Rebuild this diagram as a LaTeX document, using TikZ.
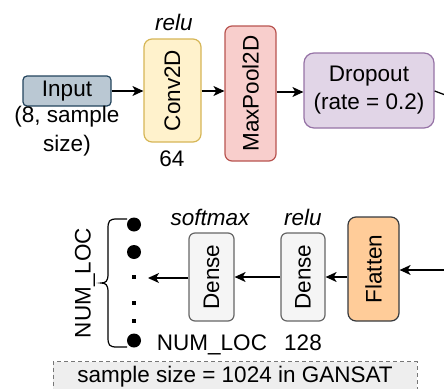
\documentclass[tikz,border=0pt]{standalone}
\usepackage{fontspec}
\setmainfont{Liberation Sans}
\usepackage{graphicx}
\usetikzlibrary{arrows.meta}
\definecolor{inpfill}{HTML}{BAC8D3}
\definecolor{inpdraw}{HTML}{23445D}
\definecolor{convfill}{HTML}{FFF2CC}
\definecolor{convdraw}{HTML}{D6B656}
\definecolor{poolfill}{HTML}{F8CECC}
\definecolor{pooldraw}{HTML}{B85450}
\definecolor{dropfill}{HTML}{E1D5E7}
\definecolor{dropdraw}{HTML}{9673A6}
\definecolor{flatfill}{HTML}{FFCC99}
\definecolor{flatdraw}{HTML}{36393D}
\definecolor{densefill}{HTML}{F5F5F5}
\definecolor{densedraw}{HTML}{666666}
\definecolor{notefill}{HTML}{EEEEEE}
\definecolor{notedraw}{HTML}{777777}
\tikzset{
  box/.style={draw, line width=1.2pt, inner sep=0pt, align=center},
  arr/.style={-{Stealth[length=11pt,width=10pt,inset=3pt]}, line width=1.3pt},
  lbl/.style={inner sep=0pt},
  bigdot/.style={circle, fill=black, inner sep=0pt, minimum size=14pt},
  smalldot/.style={rectangle, fill=black, inner sep=0pt, minimum size=3.5pt},
}
\begin{document}
\begin{tikzpicture}[x=1pt,y=-1pt, font=\fontsize{22.5}{28}\selectfont]
\clip (0,0) rectangle (444,388);
% top row
\node[box, fill=inpfill, draw=inpdraw, rounded corners=4pt, minimum width=88pt, minimum height=30pt] (inp) at (67,91) {Input};
\node[lbl, align=center, font=\fontsize{22.5}{29}\selectfont] (inpsz) at (67,131) {(8, sample\\size)};
\node[box, fill=convfill, draw=convdraw, rounded corners=8pt, minimum width=57pt, minimum height=103pt] (conv) at (172.5,90.5) {\rotatebox{90}{Conv2D}};
\node[lbl, font=\fontsize{22.5}{28}\selectfont\itshape] (convact) at (174,22) {relu};
\node[lbl] (convn) at (172,159) {64};
\node[box, fill=poolfill, draw=pooldraw, rounded corners=7pt, minimum width=51pt, minimum height=135pt] (pool) at (250.5,93.5) {\rotatebox{90}{MaxPool2D}};
\node[box, fill=dropfill, draw=dropdraw, rounded corners=10pt, minimum width=130pt, minimum height=75pt] (drop) at (369,90.5) {Dropout\\(rate = 0.2)};
\coordinate (dropout) at (448,96);
\draw[arr] (inp.east) -- (conv.west |- inp.east);
\draw[arr] (conv.east |- 0,91) -- (pool.west |- 0,91);
\draw[arr] (pool.east |- 0,92) -- (drop.west |- 0,92);
\draw[line width=1.3pt] (drop.east |- 0,91) -- (dropout);
% bottom row
\node[box, fill=flatfill, draw=flatdraw, rounded corners=8pt, minimum width=51pt, minimum height=104pt] (flat) at (373.5,269) {\rotatebox{90}{Flatten}};
\coordinate (flatin) at (448,270);
\draw[arr] (flatin) -- (flat.east |- flatin);
\node[box, fill=densefill, draw=densedraw, rounded corners=6pt, minimum width=44pt, minimum height=88pt] (d128) at (303,277) {\rotatebox{90}{Dense}};
\node[lbl, font=\fontsize{22.5}{28}\selectfont\itshape] (d128act) at (303,217) {relu};
\node[lbl] (d128n) at (303,343) {128};
\node[box, fill=densefill, draw=densedraw, rounded corners=6pt, minimum width=45pt, minimum height=88pt] (dsm) at (211.5,277) {\rotatebox{90}{Dense}};
\node[lbl, font=\fontsize{22.5}{28}\selectfont\itshape] (dsmact) at (210,217) {softmax};
\draw[arr] (flat.west |- d128) -- (d128.east);
\draw[arr] (d128.west) -- (dsm.east);
\coordinate (outtip) at (148,278);
\draw[arr] (dsm.west |- outtip) -- (outtip);
% output neurons
\node[bigdot] (o1) at (134,224.5) {};
\node[bigdot] (o2) at (134,252) {};
\node[smalldot] (s1) at (134,277) {};
\node[smalldot] (s2) at (134,303) {};
\node[smalldot] (s3) at (134,321) {};
\node[bigdot] (on) at (134,340.5) {};
% brace
\draw[line width=1.2pt] (127,219) -- (117,219) .. controls (109,219) and (108,221) .. (108,229) -- (108,274) .. controls (108,281) and (106,283) .. (101,283) .. controls (106,283) and (108,285) .. (108,292) -- (108,337) .. controls (108,345) and (109,347) .. (117,347) -- (127,347);
\node[lbl, rotate=90] (numloc) at (85,283) {NUM\_LOC};
\node[lbl] (numlocb) at (212,345) {NUM\_LOC};
% note
\node[box, fill=notefill, draw=notedraw, line width=1pt, dash pattern=on 4pt off 3pt, minimum width=364pt, minimum height=36pt, anchor=north] (note) at (235,361) {};
\node[lbl] (notetxt) at (235,377) {sample size = 1024 in GANSAT};
\end{tikzpicture}
\end{document}
